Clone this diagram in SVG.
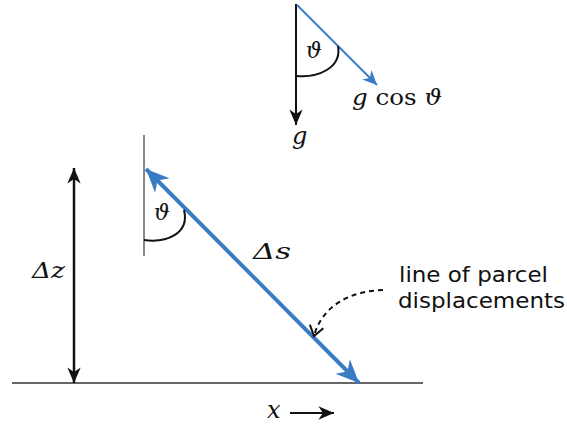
<svg xmlns="http://www.w3.org/2000/svg" width="567" height="428" viewBox="0 0 567 428">
<style>
.serif{font-family:'DejaVu Serif','Liberation Serif',serif;fill:#111;font-size:22px}
.it{font-style:italic}
.sans{font-family:'DejaVu Sans','Open Sans',sans-serif;fill:#111;font-size:22px}
.blue{stroke:#3a7cc4;fill:none}
.blk{stroke:#111;fill:none}
</style>
<defs>
<marker id="ab" markerUnits="userSpaceOnUse" markerWidth="30" markerHeight="30" refX="0" refY="0" viewBox="-20 -10 22 20" orient="auto-start-reverse">
<path d="M0,0 L-17,-7.5 L-12,0 L-17,7.5 Z" fill="#3a7cc4"/>
</marker>
<marker id="abs" markerUnits="userSpaceOnUse" markerWidth="20" markerHeight="20" refX="0" refY="0" viewBox="-16 -8 18 16" orient="auto">
<path d="M0,0 L-13,-6 L-9,0 L-13,6 Z" fill="#3a7cc4"/>
</marker>
<marker id="ak" markerUnits="userSpaceOnUse" markerWidth="20" markerHeight="20" refX="0" refY="0" viewBox="-16 -8 18 16" orient="auto-start-reverse">
<path d="M0,0 L-14,-6 L-10,0 L-14,6 Z" fill="#111"/>
</marker>
<marker id="ao" markerUnits="userSpaceOnUse" markerWidth="20" markerHeight="20" refX="0" refY="0" viewBox="-14 -10 16 20" orient="auto">
<path d="M-10,-7 L0,0 L-10,7" fill="none" stroke="#111" stroke-width="2"/>
</marker>
</defs>

<g id="connectors">
<line id="ground" x1="12" y1="383" x2="423" y2="383" stroke="#333" stroke-width="1.6"/>
<line id="vref-bottom" x1="144" y1="135" x2="144" y2="256" stroke="#444" stroke-width="1.3"/>
<line id="g-arrow" class="blk" x1="296" y1="4" x2="296" y2="125" stroke-width="2" marker-end="url(#ak)"/>
<line id="gcos-arrow" class="blue" x1="297" y1="5" x2="377" y2="85" stroke-width="2" marker-end="url(#abs)"/>
<line id="ds-arrow" class="blue" x1="146" y1="169" x2="359" y2="383" stroke-width="4" marker-start="url(#ab)" marker-end="url(#ab)"/>
<line id="dz-arrow" class="blk" x1="74" y1="168" x2="74" y2="383" stroke-width="2.5" marker-start="url(#ak)" marker-end="url(#ak)"/>
<line id="x-arrow" class="blk" x1="290" y1="413" x2="334" y2="413" stroke-width="2.2" marker-end="url(#ak)"/>
<path id="pointer" class="blk" d="M383,290 C350,291 322,306 314,336" stroke-width="2" stroke-dasharray="5,4" marker-end="url(#ao)"/>
<path id="arc-top" class="blk" d="M296,76 C318,78 342,68 338,46" stroke-width="2"/>
<path id="arc-bottom" class="blk" d="M144,240 C166,243 190,234 184,210" stroke-width="2"/>
</g>

<g id="theta-top"><text class="serif it" x="306" y="58">ϑ</text></g>
<g id="gcos-label"><text class="serif" x="352" y="105" textLength="90" lengthAdjust="spacingAndGlyphs"><tspan class="it">g</tspan> cos <tspan class="it">ϑ</tspan></text></g>
<g id="g-label"><text class="serif it" x="292" y="144" style="font-size:24px">g</text></g>
<g id="theta-bottom"><text class="serif it" x="154" y="220">ϑ</text></g>
<g id="ds-label"><text class="serif it" x="253" y="259" style="font-size:23px" textLength="38" lengthAdjust="spacingAndGlyphs">Δs</text></g>
<g id="dz-label"><text class="serif it" x="32" y="278" style="font-size:23px" textLength="33" lengthAdjust="spacingAndGlyphs">Δz</text></g>
<g id="x-label"><text class="serif it" x="267" y="418" style="font-size:24px">x</text></g>
<g id="note">
<text class="sans" x="399" y="282" textLength="149" lengthAdjust="spacingAndGlyphs">line of parcel</text>
<text class="sans" x="398" y="308" textLength="167" lengthAdjust="spacingAndGlyphs">displacements</text>
</g>
</svg>
